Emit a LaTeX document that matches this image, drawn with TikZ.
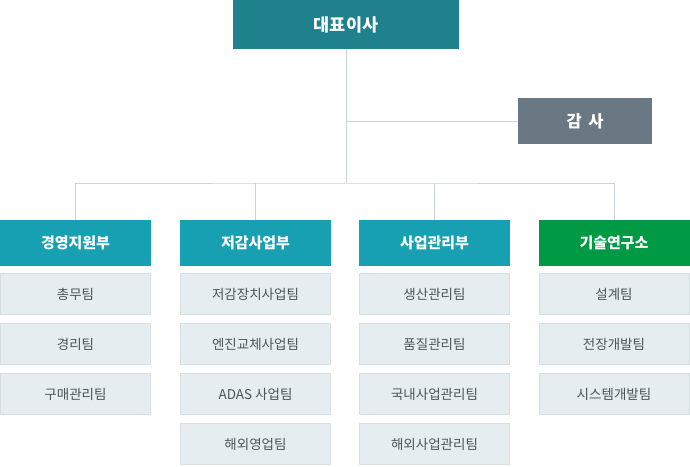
\documentclass[tikz,border=0pt]{standalone}
\usepackage{fontspec}
\setmainfont{Noto Sans CJK KR}
\usepackage{tikz}

\definecolor{ceoteal}{HTML}{1F818B}
\definecolor{auditgray}{HTML}{697882}
\definecolor{deptteal}{HTML}{17A0B1}
\definecolor{labgreen}{HTML}{009A44}
\definecolor{teamfill}{HTML}{E5EDF0}
\definecolor{teamline}{HTML}{D6DFE2}
\definecolor{linkgray}{HTML}{C9D3D8}
\definecolor{teamtext}{HTML}{4F5457}

\tikzset{
  ceobox/.style={fill=ceoteal, text=white, minimum width=226pt, minimum height=49pt,
    inner sep=0pt, font=\fontsize{17.5}{20}\selectfont\bfseries},
  auditbox/.style={fill=auditgray, text=white, minimum width=134pt, minimum height=46pt,
    inner sep=0pt, font=\fontsize{16.5}{19}\selectfont\bfseries},
  deptbox/.style={fill=deptteal, text=white, minimum width=151pt, minimum height=46pt,
    inner sep=0pt, font=\fontsize{15}{18}\selectfont\bfseries},
  teambox/.style={fill=teamfill, draw=teamline, line width=0.8pt, text=teamtext,
    minimum width=150pt, minimum height=41.5pt, inner sep=0pt,
    font=\fontsize{13.5}{16}\selectfont},
  link/.style={draw=linkgray, line width=1pt}
}

\begin{document}
\begin{tikzpicture}[x=1pt, y=-1pt]
    \useasboundingbox (0,0) rectangle (690,466);

    \node[ceobox] (ceo) at (346,24.5) {대표이사};
    \node[auditbox] (audit) at (585,121) {감\hspace{0.4em}사};
    \coordinate (bus) at (346,183);

    \node[deptbox] (mgmt) at (75.5,243) {경영지원부};
    \node[deptbox] (emis) at (255.5,243) {저감사업부};
    \node[deptbox] (biz) at (434.5,243) {사업관리부};
    \node[deptbox, fill=labgreen] (lab) at (614,243) {기술연구소};

    \node[teambox] (mgmt1) at (75.5,294) {총무팀};
    \node[teambox] (mgmt2) at (75.5,344) {경리팀};
    \node[teambox] (mgmt3) at (75.5,394) {구매관리팀};

    \node[teambox] (emis1) at (255.5,294) {저감장치사업팀};
    \node[teambox] (emis2) at (255.5,344) {엔진교체사업팀};
    \node[teambox] (emis3) at (255.5,394) {ADAS 사업팀};
    \node[teambox] (emis4) at (255.5,444) {해외영업팀};

    \node[teambox] (biz1) at (434.5,294) {생산관리팀};
    \node[teambox] (biz2) at (434.5,344) {품질관리팀};
    \node[teambox] (biz3) at (434.5,394) {국내사업관리팀};
    \node[teambox] (biz4) at (434.5,444) {해외사업관리팀};

    \node[teambox] (lab1) at (614,294) {설계팀};
    \node[teambox] (lab2) at (614,344) {전장개발팀};
    \node[teambox] (lab3) at (614,394) {시스템개발팀};

    \draw[link] (ceo.south) -- (bus);
    \draw[link] (audit.west) -- (audit.west -| ceo.south);
    \draw[link] (mgmt.north) |- (bus) -| (lab.north);
    \draw[link] (emis.north) -- (emis.north |- bus);
    \draw[link] (biz.north) -- (biz.north |- bus);
\end{tikzpicture}
\end{document}
